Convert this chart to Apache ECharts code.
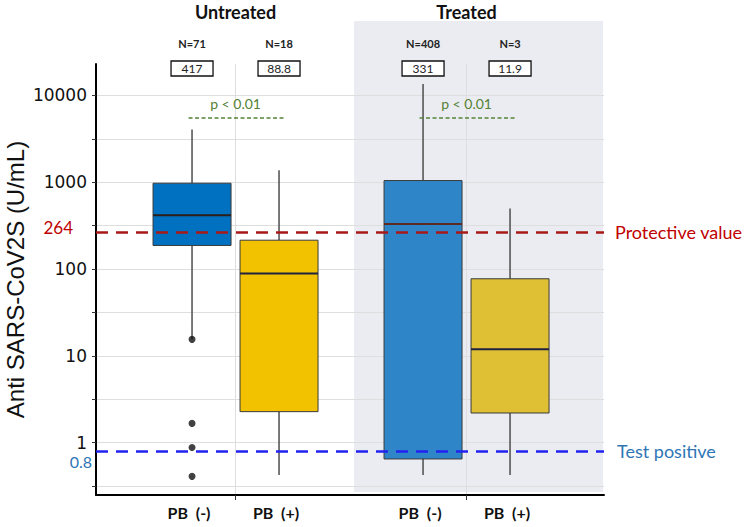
<!DOCTYPE html>
<html><head><meta charset="utf-8">
<script src="https://cdn.jsdelivr.net/npm/echarts@6/dist/echarts.min.js"></script>
<style>html,body{margin:0;padding:0;background:#fff}#c{width:749px;height:527px}</style>
</head><body><div id="c"></div>
<script>
// ---- data ----
const groupNames = ['Untreated', 'Treated'];
const pbLabels = ['PB  (-)', 'PB  (+)'];
// [min, Q1, median, Q3, max] for each group
const pbNegStats = [[15.5, 187, 417, 975, 4050], [0.425, 0.65, 331, 1046, 13500]];
const pbPosStats = [[0.425, 2.28, 88.8, 215, 1375], [0.425, 2.2, 11.9, 77.3, 497]];
const pbNegCounts = [71, 408];
const pbPosCounts = [18, 3];
const pbNegOutliers = [[15.5, 1.67, 0.88, 0.41], []];
const pValueText = ['p < 0.01', 'p < 0.01'];
const pValueLevel = [5500, 5500];
const protectiveValue = 264;
const testPositiveValue = 0.8;
const thresholdNames = ['Protective value', 'Test positive'];
const yTickLabels = [1, 10, 100, 1000, 10000];
const yGridValues = [0.316, 1, 3.16, 10, 31.6, 100, 316, 1000, 3160, 10000];

// ---- styles / layout ----
const HALF_GAP = 43.5, BOX_W = 78;
const negFill = ['#0070c0', '#2e86c8'];
const posFill = ['#f2c200', '#dfbf34'];
const negMedian = ['#2b1d18', '#5c2a20'];
const posMedian = ['#1f2240', '#1f2240'];
const ANN_FONT = 'Lato, "Open Sans", sans-serif';
const AX_FONT = '"Liberation Sans", Arial, sans-serif';
const TICK_FONT = '"DejaVu Sans", sans-serif';
const groupIdx = groupNames.map((_, i) => i);
const HIDDEN_LINE = {width: 0, color: 'rgba(0,0,0,0)'};

function boxRenderer(side, fills, medians, counts, label) {
  return function (params, api) {
    const g = api.value(0);
    const p = v => api.coord([g, v]);
    const lo = p(api.value(1)), q1 = p(api.value(2)), md = p(api.value(3)), q3 = p(api.value(4)), hi = p(api.value(5));
    const cx = lo[0] + side * HALF_GAP;
    const r = params.coordSys;
    const i = params.dataIndex;
    return {type: 'group', children: [
      {type: 'line', shape: {x1: cx, y1: hi[1], x2: cx, y2: q3[1]}, style: {stroke: '#4d4d4d', lineWidth: 1.5}},
      {type: 'line', shape: {x1: cx, y1: q1[1], x2: cx, y2: lo[1]}, style: {stroke: '#4d4d4d', lineWidth: 1.5}},
      {type: 'rect', shape: {x: cx - BOX_W / 2, y: q3[1], width: BOX_W, height: q1[1] - q3[1]},
        style: {fill: fills[i], stroke: '#3b3b3b', lineWidth: 1}},
      {type: 'line', shape: {x1: cx - BOX_W / 2, y1: md[1], x2: cx + BOX_W / 2, y2: md[1]},
        style: {stroke: medians[i], lineWidth: 2}},
      {type: 'text', x: cx - 3, y: r.y + r.height + 17,
        style: {text: label, align: 'center', verticalAlign: 'middle', fontSize: 16, fontWeight: 'bold', fontFamily: ANN_FONT, fill: '#111'}},
      {type: 'text', x: cx, y: r.y - 20.5,
        style: {text: 'N=' + counts[i], align: 'center', verticalAlign: 'middle', fontSize: 11, fontWeight: 'bold', fontFamily: ANN_FONT, fill: '#222'}},
      {type: 'rect', shape: {x: cx - 21, y: r.y - 3, width: 42, height: 15},
        style: {fill: '#fff', stroke: '#111', lineWidth: 1.3}},
      {type: 'text', x: cx, y: r.y + 4.5,
        style: {text: String(api.value(3)), align: 'center', verticalAlign: 'middle', fontSize: 12, fontFamily: ANN_FONT, fill: '#222'}}
    ]};
  };
}

const chart = echarts.init(document.getElementById('c'), null, {renderer: 'svg'});
chart.setOption({
  animation: false,
  backgroundColor: '#fff',
  graphic: {elements: [
    {type: 'rect', z: -1, silent: true, shape: {x: 354, y: 21, width: 249, height: 471}, style: {fill: '#eaecf1'}}
  ]},
  grid: {left: 96, top: 64, width: 508, height: 431, containLabel: false, outerBoundsMode: 'none'},
  xAxis: [
    {type: 'value', min: -0.604, max: 1.595, position: 'bottom',
      axisLine: {show: true, onZero: false, lineStyle: {color: '#000', width: 2}},
      axisTick: {show: true, customValues: groupIdx, length: 5, lineStyle: {color: '#333'}},
      axisLabel: {show: false},
      splitLine: {show: true, lineStyle: {color: '#dedede', width: 1}}},
    {type: 'value', min: -0.604, max: 1.595, position: 'top',
      axisLine: {show: false}, axisTick: {show: false}, splitLine: {show: false},
      axisLabel: {show: true, customValues: groupIdx, formatter: v => groupNames[Math.round(v)],
        fontSize: 18, fontWeight: 'bold', fontFamily: ANN_FONT, color: '#111', margin: 43}}
  ],
  yAxis: {
    type: 'log', logBase: 10, min: 0.25, max: 23000,
    name: 'Anti SARS-CoV2S (U/mL)', nameLocation: 'middle', nameGap: 69, nameMoveOverlap: false,
    nameTextStyle: {fontSize: 24, color: '#111', fontFamily: AX_FONT},
    axisLine: {show: true, onZero: false, lineStyle: {color: '#000', width: 2}},
    axisTick: {show: true, length: 4, customValues: yGridValues, lineStyle: {color: '#333'}},
    axisLabel: {customValues: yTickLabels, formatter: v => String(+(+v).toPrecision(6)),
      fontSize: 17, color: '#111', margin: 9, fontFamily: TICK_FONT},
    splitLine: {show: true, lineStyle: {color: '#dedede', width: 1}}
  },
  series: [
    {type: 'custom', name: pbLabels[0], data: pbNegStats.map((s, g) => [g].concat(s)),
      encode: {x: 0, y: [1, 2, 3, 4, 5]}, z: 3,
      renderItem: boxRenderer(-1, negFill, negMedian, pbNegCounts, pbLabels[0])},
    {type: 'custom', name: pbLabels[1], data: pbPosStats.map((s, g) => [g].concat(s)),
      encode: {x: 0, y: [1, 2, 3, 4, 5]}, z: 3,
      renderItem: boxRenderer(1, posFill, posMedian, pbPosCounts, pbLabels[1])},
    {type: 'custom', name: 'p-value', data: pValueLevel.map((v, g) => [g, v]),
      encode: {x: 0, y: 1}, z: 3,
      renderItem: function (params, api) {
        const pt = api.coord([api.value(0), api.value(1)]);
        return {type: 'group', children: [
          {type: 'line', shape: {x1: pt[0] - 47, y1: pt[1], x2: pt[0] + 48, y2: pt[1]},
            style: {stroke: '#548235', lineWidth: 1.5, lineDash: [4, 2.5]}},
          {type: 'text', x: pt[0], y: pt[1] - 14,
            style: {text: pValueText[params.dataIndex], align: 'center', verticalAlign: 'middle',
              fontSize: 14, fontFamily: ANN_FONT, fill: '#548235'}}
        ]};
      }},
    {type: 'scatter', name: 'outliers', z: 4,
      data: pbNegOutliers.flatMap((arr, g) => arr.map(v => [g, v])),
      symbolSize: 7, symbolOffset: [-HALF_GAP, 0], itemStyle: {color: '#111'},
      markLine: {silent: true, symbol: 'none', animation: false,
        data: [
          {yAxis: protectiveValue, lineStyle: {color: '#a81818', width: 2.5, type: [12, 8]},
            label: {show: true, position: 'end', formatter: thresholdNames[0], color: '#c00000',
              fontSize: 18, fontFamily: ANN_FONT, distance: 11}},
          {yAxis: protectiveValue, lineStyle: HIDDEN_LINE,
            label: {show: true, position: 'start', formatter: String(protectiveValue), color: '#c00000',
              fontSize: 17, fontFamily: ANN_FONT, distance: 2, padding: [0, 21, 0, 0],
              verticalAlign: 'bottom', lineHeight: 10}},
          {yAxis: testPositiveValue, lineStyle: {color: '#2222f0', width: 2.5, type: [12, 8]},
            label: {show: true, position: 'end', formatter: thresholdNames[1], color: '#2e75b6',
              fontSize: 18, fontFamily: ANN_FONT, distance: 13}},
          {yAxis: testPositiveValue, lineStyle: HIDDEN_LINE,
            label: {show: true, position: 'start', formatter: String(testPositiveValue), color: '#2e75b6',
              fontSize: 16, fontFamily: ANN_FONT, distance: 2, padding: [0, 2, 0, 0],
              verticalAlign: 'top', lineHeight: 21}}
        ]}}
  ]
});
</script></body></html>
